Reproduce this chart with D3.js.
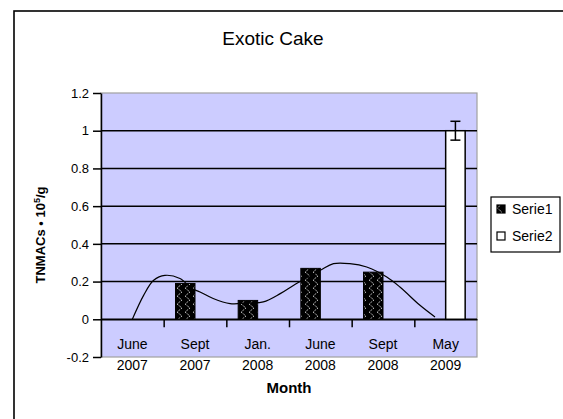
<!DOCTYPE html>
<html><head><meta charset="utf-8">
<script src="https://cdn.jsdelivr.net/npm/d3@7"></script>
<style>body{margin:0;background:#fff}svg{display:block}text{font-family:"Liberation Sans",Arial,sans-serif;fill:#000}</style>
</head><body><svg id="c" width="563" height="419"></svg>
<script>
const categories = ["June 2007","Sept 2007","Jan. 2008","June 2008","Sept 2008","May 2009"];
const catLine1 = ["June","Sept","Jan.","June","Sept","May"];
const catLine2 = ["2007","2007","2008","2008","2008","2009"];
const seriesNames = ["Serie1","Serie2"];
const serie1 = [0, 0.19, 0.1, 0.27, 0.25, 0];
const serie2 = [0, 0, 0, 0, 0, 1.0];
const serie2Err = [0, 0, 0, 0, 0, 0.05];
const yTicks = [-0.2, 0, 0.2, 0.4, 0.6, 0.8, 1, 1.2];
const yTickLabels = ["-0.2","0","0.2","0.4","0.6","0.8","1","1.2"];
// trend curve: [category position, value]
const trendPos = [0, 0.18, 0.34, 0.52, 0.76, 0.95, 1.08, 1.29, 1.56, 1.83, 2.09, 2.36, 2.6, 3.0, 3.21, 3.47, 3.74, 4.06, 4.27, 4.59, 4.83];
const trendVal = [0, 0.127, 0.207, 0.233, 0.216, 0.163, 0.145, 0.11, 0.083, 0.086, 0.092, 0.136, 0.186, 0.26, 0.295, 0.295, 0.277, 0.224, 0.171, 0.074, 0.012];

const svg = d3.select("#c");
const L = 101, R = 477, T = 93, B = 357;

// frame
svg.append("rect").attr("x",14).attr("y",11).attr("width",700).attr("height",600)
  .attr("fill","none").attr("stroke","#000").attr("stroke-width",1.6);

// pattern
const defs = svg.append("defs");
const pat = defs.append("pattern").attr("id","zz").attr("patternUnits","userSpaceOnUse")
  .attr("width",8).attr("height",8);
pat.append("rect").attr("width",8).attr("height",8).attr("fill","#000");
pat.append("path").attr("d","M1,0 L6,4 L1,8").attr("fill","none").attr("stroke","#fff")
  .attr("stroke-width",1).attr("stroke-dasharray","1,1.2");

const x = d3.scaleBand().domain(categories).range([L,R]).padding(0);
const bw = x.bandwidth();
const xs = d3.scaleBand().domain(seriesNames).range([0,bw]).paddingInner(0).paddingOuter(0.607);
const xi = d3.scaleLinear().domain([-0.5, categories.length-0.5]).range([L,R]);
const xEdge = d3.scaleLinear().domain([0, categories.length]).range([L,R]);
const y = d3.scaleLinear().domain([-0.2,1.2]).range([B,T]);

// plot background
svg.append("rect").attr("x",L).attr("y",T).attr("width",R-L).attr("height",B-T)
  .attr("fill","#ccccff").attr("stroke","#a0a0a0").attr("stroke-width",1.2);

// gridlines
svg.append("g").selectAll("line").data(yTicks.filter(d=>d>=0 && d<1.2)).join("line")
  .attr("x1",L).attr("x2",R).attr("y1",d=>y(d)).attr("y2",d=>y(d))
  .attr("stroke","#000").attr("stroke-width",1.5);

// x axis at zero
const xa = svg.append("g").attr("transform",`translate(0,${y(0)})`)
  .call(d3.axisBottom(xEdge).tickValues(d3.range(1,categories.length)).tickFormat("").tickSize(8).tickSizeOuter(0));
xa.select(".domain").attr("stroke","#000").attr("stroke-width",1.5);
xa.selectAll(".tick line").attr("stroke","#000").attr("stroke-width",1.5);

// bars
const data = categories.map((c,i)=>({c, vals:[serie1[i], serie2[i]], err: serie2Err[i]}));
svg.append("g").selectAll("rect").data(data.filter(d=>d.vals[0]>0)).join("rect")
  .attr("x",d=>x(d.c)+xs("Serie1")).attr("width",xs.bandwidth())
  .attr("y",d=>y(d.vals[0])).attr("height",d=>y(0)-y(d.vals[0]))
  .attr("fill","url(#zz)").attr("stroke","#000").attr("stroke-width",1);
svg.append("g").selectAll("rect").data(data.filter(d=>d.vals[1]>0)).join("rect")
  .attr("x",d=>x(d.c)+xs("Serie2")).attr("width",xs.bandwidth())
  .attr("y",d=>y(d.vals[1])).attr("height",d=>y(0)-y(d.vals[1]))
  .attr("fill","#fff").attr("stroke","#000").attr("stroke-width",1.5);

// error bars
const eg = svg.append("g").attr("stroke","#000").attr("stroke-width",1.5);
data.filter(d=>d.err>0).forEach(d=>{
  const cx = x(d.c)+xs("Serie2")+xs.bandwidth()/2;
  eg.append("line").attr("x1",cx).attr("x2",cx).attr("y1",y(d.vals[1]+d.err)).attr("y2",y(d.vals[1]-d.err));
  eg.append("line").attr("x1",cx-5).attr("x2",cx+5).attr("y1",y(d.vals[1]+d.err)).attr("y2",y(d.vals[1]+d.err));
  eg.append("line").attr("x1",cx-5).attr("x2",cx+5).attr("y1",y(d.vals[1]-d.err)).attr("y2",y(d.vals[1]-d.err));
});

// trend curve
svg.append("path").datum(trendPos.map((p,i)=>[p,trendVal[i]]))
  .attr("d", d3.line().x(d=>xi(d[0])).y(d=>y(d[1])).curve(d3.curveCatmullRom))
  .attr("fill","none").attr("stroke","#000").attr("stroke-width",1.2);

// y axis
const ya = svg.append("g").attr("transform",`translate(${L},0)`)
  .call(d3.axisLeft(y).tickValues(yTicks).tickFormat((d,i)=>yTickLabels[i]).tickSize(8).tickPadding(4).tickSizeOuter(0));
ya.select(".domain").attr("stroke","#000").attr("stroke-width",1.5);
ya.selectAll(".tick line").attr("stroke","#000").attr("stroke-width",1.5);
ya.selectAll(".tick text").attr("font-size",13).attr("font-family","Liberation Sans, Arial, sans-serif").attr("fill","#000");

// category labels
const cl = svg.append("g").attr("font-size",14).attr("text-anchor","middle");
categories.forEach((c,i)=>{
  const cx = x(c)+bw/2;
  cl.append("text").attr("x",cx).attr("y",349).text(catLine1[i]);
  cl.append("text").attr("x",cx).attr("y",370).text(catLine2[i]);
});

// titles
svg.append("text").attr("x",273).attr("y",45).attr("text-anchor","middle").attr("font-size",19).text("Exotic Cake");
svg.append("text").attr("x",289).attr("y",393).attr("text-anchor","middle").attr("font-size",15).attr("font-weight","bold").text("Month");
svg.append("text").attr("transform","translate(45,235) rotate(-90)").attr("text-anchor","middle")
  .attr("font-size",13).attr("font-weight","bold").html('TNMACs • 10<tspan dy="-5" font-size="9">5</tspan><tspan dy="5">/g</tspan>');

// legend
const lg = svg.append("g");
lg.append("rect").attr("x",491).attr("y",197).attr("width",69).attr("height",55).attr("fill","#fff").attr("stroke","#000").attr("stroke-width",1.2);
const lfill = ["url(#zz)","#fff"];
seriesNames.forEach((s,i)=>{
  const yy = 205 + i*27;
  lg.append("rect").attr("x",497).attr("y",yy).attr("width",8).attr("height",8).attr("fill",lfill[i]).attr("stroke","#000").attr("stroke-width",1.2);
  lg.append("text").attr("x",512).attr("y",yy+9).attr("font-size",14).text(s);
});
</script></body></html>
